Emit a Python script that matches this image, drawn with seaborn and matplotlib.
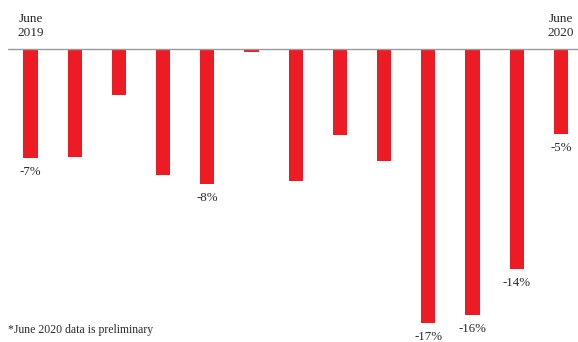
import matplotlib
matplotlib.use("Agg")
import matplotlib.pyplot as plt
import seaborn as sns
import pandas as pd

months = ["Jun 2019", "Jul 2019", "Aug 2019", "Sep 2019", "Oct 2019", "Nov 2019",
          "Dec 2019", "Jan 2020", "Feb 2020", "Mar 2020", "Apr 2020", "May 2020", "Jun 2020"]
values = [-6.7, -6.6, -2.8, -7.7, -8.3, -0.2, -8.1, -5.3, -6.9, -16.8, -16.3, -13.5, -5.2]
labels = ["-7%", "", "", "", "-8%", "", "", "", "", "-17%", "-16%", "-14%", "-5%"]
top_labels = {0: "June\n2019", 12: "June\n2020"}
footnote = "*June 2020 data is preliminary"

sns.set_theme(style="white")
plt.rcParams['font.family'] = ['Liberation Serif', 'DejaVu Serif']

W, H = 578, 342
fig = plt.figure(figsize=(W / 100, H / 100), dpi=100)
ax = fig.add_axes([8.4 / W, 0, 1 - 8.4 / W, 1])

df = pd.DataFrame({"month": months, "value": values})
sns.barplot(data=df, x="month", y="value", color="#ED1C24", saturation=1,
            width=0.32, ax=ax, order=months, linewidth=0, edgecolor="none")

pxper = 16.3
ax.set_ylim(-(H - 49) / pxper, 49 / pxper)
ax.set_xlim(-0.5, 12.5 - 5 / 44.2)
ax.axhline(0, color="#9a9a9a", lw=1.0, zorder=3)

for i, (v, lab) in enumerate(zip(values, labels)):
    if lab:
        ax.text(i, v - 14 / pxper, lab, ha="center", va="center", fontsize=9.3, color="#2a2a2a")
for i, lab in top_labels.items():
    ax.text(i, 23 / pxper, lab, ha="center", va="center", fontsize=9.5,
            color="#2a2a2a", linespacing=1.2)

ax.set_xticks([])
ax.set_yticks([])
ax.set_xlabel("")
ax.set_ylabel("")
for s in ax.spines.values():
    s.set_visible(False)

fig.text(8 / W, 1 - 330 / H, footnote, ha="left", va="center", fontsize=8.5, color="#2a2a2a")

fig.savefig("out.png", dpi=100)
